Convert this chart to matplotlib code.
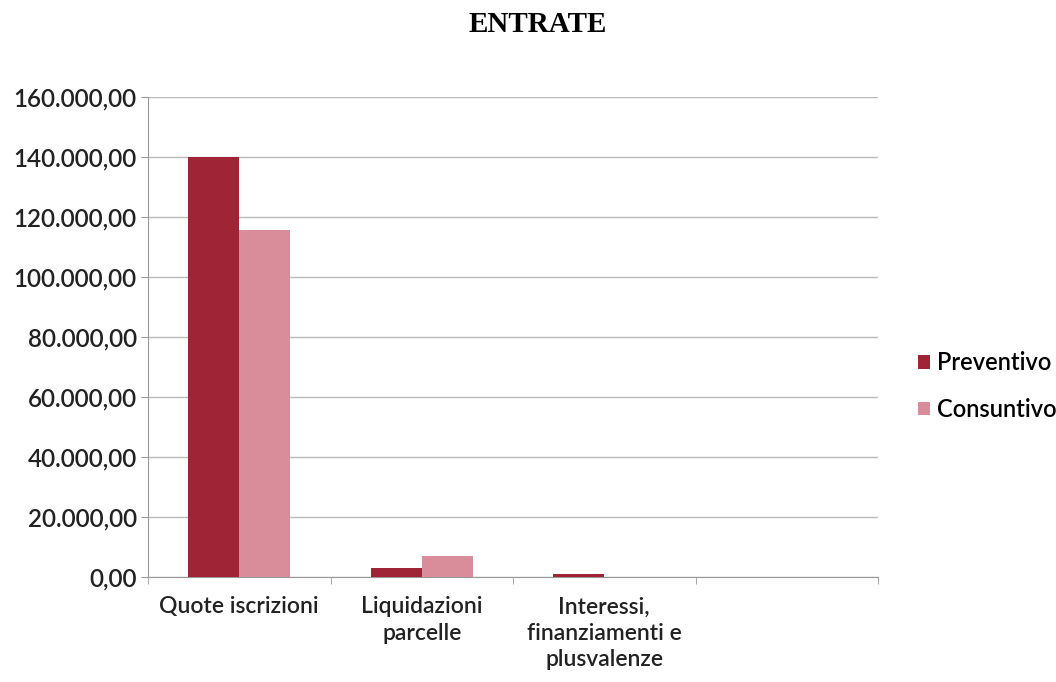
import numpy as np
import matplotlib.pyplot as plt
from matplotlib.ticker import FuncFormatter

# dati
categorie = ["Quote iscrizioni", "Liquidazioni\nparcelle",
             "Interessi,\nfinanziamenti e\nplusvalenze", ""]
preventivo = [140000, 3000, 1000, 0]
consuntivo = [115800, 7000, 0, 0]

col_prev = "#9E2436"
col_cons = "#D98C9A"
font = "Lato"

def fmt_it(v, pos):
    s = f"{v:,.2f}"
    return s.replace(",", "X").replace(".", ",").replace("X", ".")

fig = plt.figure(figsize=(10.56, 6.82), dpi=100)
ax = fig.add_axes([148/1056, 1-577/682, 730/1056, 480/682])

x = np.arange(len(categorie))
w = 0.28
ax.bar(x - w/2, preventivo, w, color=col_prev, label="Preventivo", zorder=3)
ax.bar(x + w/2, consuntivo, w, color=col_cons, label="Consuntivo", zorder=3)

ax.set_xlim(-0.5, len(categorie) - 0.5)
ax.set_ylim(0, 160000)
ax.set_yticks(np.arange(0, 160001, 20000))
ax.yaxis.set_major_formatter(FuncFormatter(fmt_it))
ax.yaxis.grid(True, color="#BBBBBB", linewidth=1, zorder=0)

ax.set_xticks(x)
ax.set_xticklabels(categorie, fontsize=16.5, family=font, weight="semibold",
                   color="#222222", linespacing=1.3, va="top")
ax.set_xticks(np.arange(-0.5, len(categorie)), minor=True)
ax.tick_params(axis="x", which="major", length=0, pad=14)
ax.tick_params(axis="x", which="minor", length=5, color="#999999")
ax.tick_params(axis="y", length=5, color="#999999", labelsize=17.5, labelcolor="#222222", pad=3)
for lab in ax.get_yticklabels():
    lab.set_family(font)
    lab.set_weight("semibold")

for s in ["top", "right"]:
    ax.spines[s].set_visible(False)
ax.spines["left"].set_color("#999999")
ax.spines["bottom"].set_color("#999999")

fig.text(538/1056, 1-25/682, "ENTRATE", ha="center", va="center",
         fontsize=21, fontweight="bold", family="Liberation Serif")

fig.legend(loc="center left", bbox_to_anchor=(897/1056, 1-386/682), frameon=False,
           prop={"family": font, "size": 17, "weight": "semibold"},
           handlelength=0.5, handleheight=0.5, handletextpad=0.3, labelspacing=1.0)

fig.savefig("out.png", dpi=100)
